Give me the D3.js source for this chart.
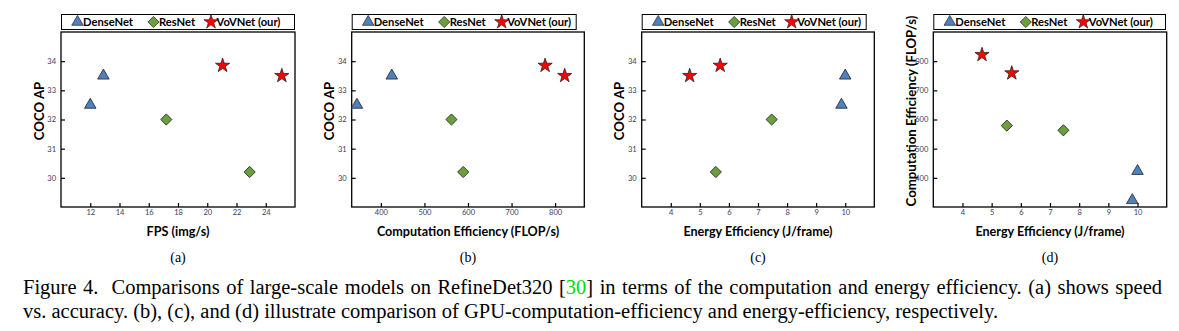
<!DOCTYPE html>
<html>
<head>
<meta charset="utf-8">
<script src="https://cdn.jsdelivr.net/npm/d3@7"></script>
<style>
  html, body { margin: 0; padding: 0; background: #fff; }
  svg { display: block; }
</style>
</head>
<body>
<svg id="chart" width="1179" height="331"></svg>
<script>
// ---------------- DATA ----------------
const models = ["DenseNet", "ResNet", "VoVNet (our)"];

// COCO AP per model (two configurations each)
const apDense = [32.5, 33.5];
const apRes   = [32.0, 30.2];
const apVov   = [33.85, 33.5];

// (a) FPS (img/s)
const fpsDense = [12.0, 12.9];
const fpsRes   = [17.2, 22.9];
const fpsVov   = [21.05, 25.1];

// (b) Computation efficiency (FLOP/s)
const flopDense = [345, 425];
const flopRes   = [562, 589];
const flopVov   = [777, 822];

// (c) Energy efficiency (J/frame)
const energyDense = [9.87, 10.0];
const energyRes   = [7.47, 5.55];
const energyVov   = [5.7, 4.65];

// (d) energy efficiency vs computation efficiency
const dEnergyDense = [9.82, 10.0];
const dFlopDense   = [323, 423];
const dEnergyRes   = [5.52, 7.46];
const dFlopRes     = [579, 563];
const dEnergyVov   = [4.67, 5.69];
const dFlopVov     = [822, 759];

// tick labels
const ticksFps    = [12, 14, 16, 18, 20, 22, 24];
const ticksAP     = [30, 31, 32, 33, 34];
const ticksFlopX  = [400, 500, 600, 700, 800];
const ticksEnergy = [4, 5, 6, 7, 8, 9, 10];
const ticksFlopY  = [400, 500, 600, 700, 800];

const subLabels = ["(a)", "(b)", "(c)", "(d)"];

// ---------------- LAYOUT ----------------
const svg = d3.select("#chart");
const plotTop = 32, plotBottom = 207;
const colors = { fill: ["#4f81bd", "#6a9f3c", "#ff0000"], stroke: "#222" };
const symbols = [
  { type: d3.symbolTriangle, size: 46, rot: 0 },
  { type: d3.symbolSquare,   size: 50, rot: 45 },
  { type: d3.symbolStar,     size: 50, rot: 0 }
];

const panels = [
  { left: 61,    right: 295,    legendRight: 295,
    xDomain: [10, 26],  yDomain: [29, 35],   xTicks: ticksFps,    yTicks: ticksAP,
    xLabel: "FPS (img/s)", yLabel: "COCO AP",
    series: [[fpsDense, apDense], [fpsRes, apRes], [fpsVov, apVov]] },
  { left: 351.7, right: 584.3,  legendRight: 576.7,
    xDomain: [333, 867], yDomain: [29, 35],  xTicks: ticksFlopX,  yTicks: ticksAP,
    xLabel: "Computation Efficiency (FLOP/s)", yLabel: "COCO AP",
    series: [[flopDense, apDense], [flopRes, apRes], [flopVov, apVov]] },
  { left: 641.7, right: 874.3,  legendRight: 866.7,
    xDomain: [3, 11],   yDomain: [29, 35],   xTicks: ticksEnergy, yTicks: ticksAP,
    xLabel: "Energy Efficiency (J/frame)", yLabel: "COCO AP",
    series: [[energyDense, apDense], [energyRes, apRes], [energyVov, apVov]] },
  { left: 933.3, right: 1166.7, legendRight: 1166,
    xDomain: [3, 11],   yDomain: [300, 900], xTicks: ticksEnergy, yTicks: ticksFlopY,
    xLabel: "Energy Efficiency (J/frame)", yLabel: "Computation Efficiency (FLOP/s)",
    series: [[dEnergyDense, dFlopDense], [dEnergyRes, dFlopRes], [dEnergyVov, dFlopVov]] }
];

const legendOffsets = [16.5, 92.5, 150];
const sansBold = "Lato, 'Open Sans', sans-serif";

panels.forEach((p, pi) => {
  const g = svg.append("g");
  const x = d3.scaleLinear().domain(p.xDomain).range([p.left, p.right]);
  const y = d3.scaleLinear().domain(p.yDomain).range([plotBottom, plotTop]);

  // legend box
  g.append("rect")
    .attr("x", p.left + 0.5).attr("y", 14.5)
    .attr("width", p.legendRight - p.left - 1).attr("height", 15)
    .attr("fill", "none").attr("stroke", "#000").attr("stroke-width", 1);
  models.forEach((m, i) => {
    const cx = p.left + legendOffsets[i];
    g.append("path")
      .attr("d", d3.symbol().type(symbols[i].type).size(symbols[i].size * 1.25)())
      .attr("transform", `translate(${cx},${22}) rotate(${symbols[i].rot})`)
      .attr("fill", colors.fill[i]).attr("stroke", colors.stroke).attr("stroke-width", 0.7);
    g.append("text")
      .attr("x", cx + 5.5).attr("y", 22)
      .attr("dy", "0.36em")
      .attr("font-family", sansBold).attr("font-weight", "bold")
      .attr("font-size", 11.2).attr("fill", "#000")
      .text(m);
  });

  // axes
  const fmt = d3.format("~g");
  const xAxis = d3.axisBottom(x).tickValues(p.xTicks).tickFormat(fmt).tickSizeInner(-4).tickSizeOuter(0).tickPadding(3);
  const yAxis = d3.axisLeft(y).tickValues(p.yTicks).tickFormat(fmt).tickSizeInner(-4).tickSizeOuter(0).tickPadding(5);
  const gx = g.append("g").attr("transform", `translate(0,${plotBottom})`).call(xAxis);
  const gy = g.append("g").attr("transform", `translate(${p.left},0)`).call(yAxis);
  [gx, gy].forEach(a => {
    a.select(".domain").remove();
    a.selectAll("line").attr("stroke", "#000").attr("stroke-width", 1.2);
    a.selectAll("text")
      .attr("font-family", "Lato, 'Open Sans', sans-serif")
      .attr("font-size", 7.5).attr("fill", "#3a3a60");
  });

  // frame
  g.append("rect")
    .attr("x", p.left).attr("y", plotTop)
    .attr("width", p.right - p.left).attr("height", plotBottom - plotTop)
    .attr("fill", "none").attr("stroke", "#000").attr("stroke-width", 1.3);

  // points
  p.series.forEach((s, si) => {
    const pts = s[0].map((xv, k) => [xv, s[1][k]]);
    g.selectAll(null).data(pts).enter().append("path")
      .attr("d", d3.symbol().type(symbols[si].type).size(symbols[si].size * 1.25)())
      .attr("transform", d => `translate(${x(d[0])},${y(d[1])}) rotate(${symbols[si].rot})`)
      .attr("fill", colors.fill[si]).attr("stroke", colors.stroke).attr("stroke-width", 0.8);
  });

  // axis labels
  const cxp = (p.left + p.right) / 2;
  g.append("text")
    .attr("x", cxp).attr("y", 232).attr("dy", "0.35em")
    .attr("text-anchor", "middle")
    .attr("font-family", sansBold).attr("font-weight", "bold")
    .attr("font-size", 12.6).attr("fill", "#000")
    .text(p.xLabel);
  g.append("text")
    .attr("transform", `translate(${p.left - 22},111) rotate(-90)`)
    .attr("dy", "0.35em")
    .attr("text-anchor", "middle")
    .attr("font-family", sansBold).attr("font-weight", "bold")
    .attr("font-size", 13.2).attr("fill", "#000")
    .text(p.yLabel);

  // sub caption
  g.append("text")
    .attr("x", cxp).attr("y", 257).attr("dy", "0.35em")
    .attr("text-anchor", "middle")
    .attr("font-family", "'Liberation Serif', 'Times New Roman', serif")
    .attr("font-size", 14).attr("fill", "#000")
    .text(subLabels[pi]);
});

// ---------------- CAPTION ----------------
const serif = "'Liberation Serif', 'Times New Roman', serif";
const capSize = 20.5;
const line1 = svg.append("text")
  .attr("x", 23).attr("y", 294)
  .attr("font-family", serif).attr("font-size", capSize).attr("fill", "#000")
  .attr("xml:space", "preserve");
line1.append("tspan").text("Figure 4.  Comparisons of large-scale models on RefineDet320 [");
line1.append("tspan").attr("fill", "#00dd00").text("30");
line1.append("tspan").text("] in terms of the computation and energy efficiency. (a) shows speed");
// justify first line by word spacing
const natural = line1.node().getComputedTextLength();
const spaces = (line1.text().match(/ /g) || []).length;
const extra = Math.max(0, (1162 - 23 - natural) / spaces);
line1.attr("word-spacing", extra);

svg.append("text")
  .attr("x", 23).attr("y", 318)
  .attr("font-family", serif).attr("font-size", capSize).attr("fill", "#000")
  .text("vs. accuracy. (b), (c), and (d) illustrate comparison of GPU-computation-efficiency and energy-efficiency, respectively.");
</script>
</body>
</html>
